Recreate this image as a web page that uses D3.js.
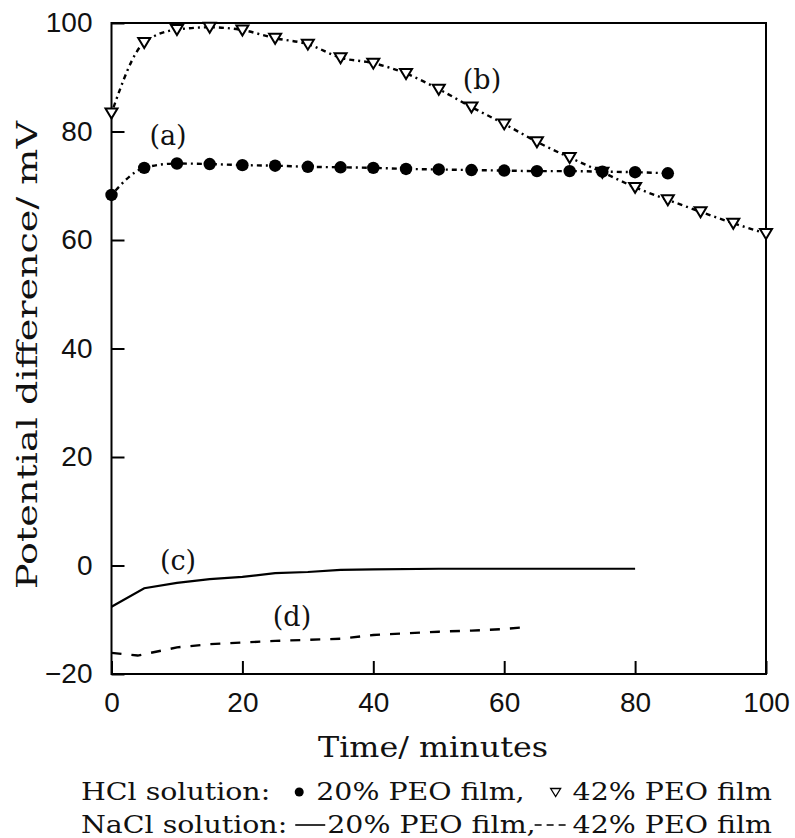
<!DOCTYPE html>
<html>
<head>
<meta charset="utf-8">
<script src="https://cdn.jsdelivr.net/npm/d3@7"></script>
<style>
  html, body { margin: 0; padding: 0; background: #fff; }
  svg { display: block; }
</style>
</head>
<body>
<svg id="chart" width="795" height="838"></svg>
<script>
// ---------------- DATA ----------------
const xTicks = [0, 20, 40, 60, 80, 100];
const yTicks = [-20, 0, 20, 40, 60, 80, 100];

// (a) HCl solution, 20% PEO film (filled circles)
const timeA = [0, 5, 10, 15, 20, 25, 30, 35, 40, 45, 50, 55, 60, 65, 70, 75, 80, 85];
const valuesA = [68.3, 73.3, 74.1, 74.0, 73.8, 73.7, 73.5, 73.4, 73.3, 73.1, 73.0, 72.9, 72.8, 72.7, 72.7, 72.6, 72.5, 72.3];

// (b) HCl solution, 42% PEO film (open triangles)
const timeB = [0, 5, 10, 15, 20, 25, 30, 35, 40, 45, 50, 55, 60, 65, 70, 75, 80, 85, 90, 95, 100];
const valuesB = [83.4, 96.4, 98.8, 99.2, 98.7, 97.2, 96.1, 93.6, 92.6, 90.7, 87.8, 84.5, 81.4, 78.1, 75.2, 72.5, 69.7, 67.4, 65.2, 63.1, 61.2];

// (c) NaCl solution, 20% PEO film (solid line)
const timeC = [0, 5, 10, 15, 20, 25, 30, 35, 40, 50, 60, 70, 80];
const valuesC = [-7.6, -4.2, -3.2, -2.5, -2.1, -1.4, -1.2, -0.8, -0.7, -0.6, -0.6, -0.6, -0.6];

// (d) NaCl solution, 42% PEO film (dashed line)
const timeD = [0, 4, 10, 15, 20, 25, 30, 35, 40, 45, 50, 55, 60, 63];
const valuesD = [-16.1, -16.6, -15.1, -14.5, -14.2, -13.9, -13.7, -13.5, -12.8, -12.5, -12.2, -12.0, -11.7, -11.4];

const curveLabels = ["(a)", "(b)", "(c)", "(d)"];
const xTitle = "Time/ minutes";
const yTitle = "Potential difference/ mV";
const legendText = ["HCl solution:", "20% PEO film,", "42% PEO film", "NaCl solution:", "20% PEO film,", "42% PEO film"];

// ---------------- LAYOUT ----------------
const svg = d3.select("#chart");
const L = 111.5, R = 766, T = 23, B = 674;
const x = d3.scaleLinear().domain([0, 100]).range([L, R]);
const y = d3.scaleLinear().domain([-20, 100]).range([B, T]);

const serif = "'DejaVu Serif', 'Liberation Serif', serif";
const sans = "'Liberation Sans', Arial, sans-serif";
const ink = "#111";

const zip = (t, v) => t.map((d, i) => ({ t: d, v: v[i] }));
const dataA = zip(timeA, valuesA);
const dataB = zip(timeB, valuesB);
const dataC = zip(timeC, valuesC);
const dataD = zip(timeD, valuesD);

// ---------------- AXES ----------------
const yAxis = d3.axisLeft(y).tickValues(yTicks).tickSizeInner(-13).tickSizeOuter(0).tickPadding(19)
  .tickFormat(d => d < 0 ? "\u2212" + Math.abs(d) : d);
const gy = svg.append("g").attr("transform", `translate(${L},0)`).call(yAxis);
gy.selectAll("line").attr("stroke", "#000").attr("stroke-width", 2);
gy.select(".domain").remove();
gy.selectAll("text").attr("font-family", sans).attr("font-size", 28).attr("fill", ink);

const xAxis = d3.axisBottom(x).tickValues(xTicks).tickSizeInner(-13).tickSizeOuter(0).tickPadding(18);
const gx = svg.append("g").attr("transform", `translate(0,${B})`).call(xAxis);
gx.selectAll("line").attr("stroke", "#000").attr("stroke-width", 2);
gx.select(".domain").remove();
gx.selectAll("text").attr("font-family", sans).attr("font-size", 28).attr("fill", ink);

// frame
svg.append("rect").attr("x", L).attr("y", T).attr("width", R - L).attr("height", B - T)
  .attr("fill", "none").attr("stroke", "#000").attr("stroke-width", 2);

// ---------------- LINES ----------------
const line = d3.line().x(d => x(d.t)).y(d => y(d.v));
const smooth = d3.line().x(d => x(d.t)).y(d => y(d.v)).curve(d3.curveMonotoneX);

svg.append("path").datum(dataB).attr("d", smooth).attr("fill", "none")
  .attr("stroke", "#000").attr("stroke-width", 2.4).attr("stroke-dasharray", "2,4,5,4");
svg.append("path").datum(dataA).attr("d", smooth).attr("fill", "none")
  .attr("stroke", "#000").attr("stroke-width", 2.4).attr("stroke-dasharray", "2,4,5,4");
svg.append("path").datum(dataC).attr("d", line).attr("fill", "none")
  .attr("stroke", "#000").attr("stroke-width", 2.2);
svg.append("path").datum(dataD).attr("d", line).attr("fill", "none")
  .attr("stroke", "#000").attr("stroke-width", 2.4).attr("stroke-dasharray", "10,10");

// ---------------- MARKERS ----------------
const triPath = "M-6,-4.5L6,-4.5L0,5.5Z";
svg.append("g").selectAll("path").data(dataB).join("path")
  .attr("d", triPath)
  .attr("transform", d => `translate(${x(d.t)},${y(d.v)})`)
  .attr("fill", "#fff").attr("stroke", "#000").attr("stroke-width", 2);
svg.append("g").selectAll("circle").data(dataA).join("circle")
  .attr("cx", d => x(d.t)).attr("cy", d => y(d.v)).attr("r", 6.2).attr("fill", "#000");

// ---------------- CURVE LABELS ----------------
const labelPos = [[168, 145], [482, 89], [178, 570], [292, 626]];
svg.append("g").selectAll("text").data(curveLabels).join("text")
  .attr("x", (d, i) => labelPos[i][0]).attr("y", (d, i) => labelPos[i][1])
  .attr("text-anchor", "middle").attr("font-family", serif).attr("font-size", 27)
  .attr("fill", ink).text(d => d);

// ---------------- TITLES ----------------
svg.append("text").attr("x", 433).attr("y", 757).attr("text-anchor", "middle")
  .attr("font-family", serif).attr("font-size", 27).attr("fill", ink)
  .attr("textLength", 230).attr("lengthAdjust", "spacingAndGlyphs").text(xTitle);

svg.append("text").attr("transform", "translate(37,355) rotate(-90)").attr("text-anchor", "middle")
  .attr("font-family", serif).attr("font-size", 27).attr("fill", ink)
  .attr("textLength", 468).attr("lengthAdjust", "spacingAndGlyphs").text(yTitle);

// ---------------- LEGEND ----------------
const legFs = 24;
const leg = svg.append("g").attr("font-family", serif).attr("font-size", legFs).attr("fill", ink);
const measure = txt => {
  const t = leg.append("text").text(txt);
  const w = t.node().getComputedTextLength();
  t.remove();
  return w;
};
const nat = legendText.map(measure);
const legL = 81, legR = 772;
// line 1 fixed gaps: gap, circle, gap | gap, triangle, gap
const gaps1 = 24 + 10 + 12 + 26 + 10 + 12;
const k = (legR - legL - gaps1) / (nat[0] + nat[1] + nat[2]);
const wd = nat.map(w => w * k);
const y1 = 800, y2 = 833;
const lt = (i, x0, yy) => leg.append("text").attr("x", x0).attr("y", yy)
  .attr("textLength", wd[i]).attr("lengthAdjust", "spacingAndGlyphs").text(legendText[i]);

// line 1
let cx = legL;
lt(0, cx, y1); cx += wd[0] + 24;
leg.append("circle").attr("cx", cx + 5).attr("cy", y1 - 8).attr("r", 4.5).attr("fill", "#000");
cx += 10 + 12;
lt(1, cx, y1); cx += wd[1] + 26;
leg.append("path").attr("d", "M-5,-3.5L5,-3.5L0,4.5Z").attr("transform", `translate(${cx + 5},${y1 - 8})`)
  .attr("fill", "#fff").attr("stroke", "#000").attr("stroke-width", 1.3);
lt(2, legR - wd[2], y1);

// line 2
cx = legL;
lt(3, cx, y2); cx += wd[3] + 8;
leg.append("line").attr("x1", cx).attr("x2", cx + 30).attr("y1", y2 - 8).attr("y2", y2 - 8)
  .attr("stroke", "#000").attr("stroke-width", 1.6);
cx += 32;
lt(4, cx, y2);
const x6 = legR - wd[5];
leg.append("line").attr("x1", x6 - 38).attr("x2", x6 - 3).attr("y1", y2 - 8).attr("y2", y2 - 8)
  .attr("stroke", "#000").attr("stroke-width", 1.6).attr("stroke-dasharray", "7,5");
lt(5, x6, y2);
</script>
</body>
</html>
